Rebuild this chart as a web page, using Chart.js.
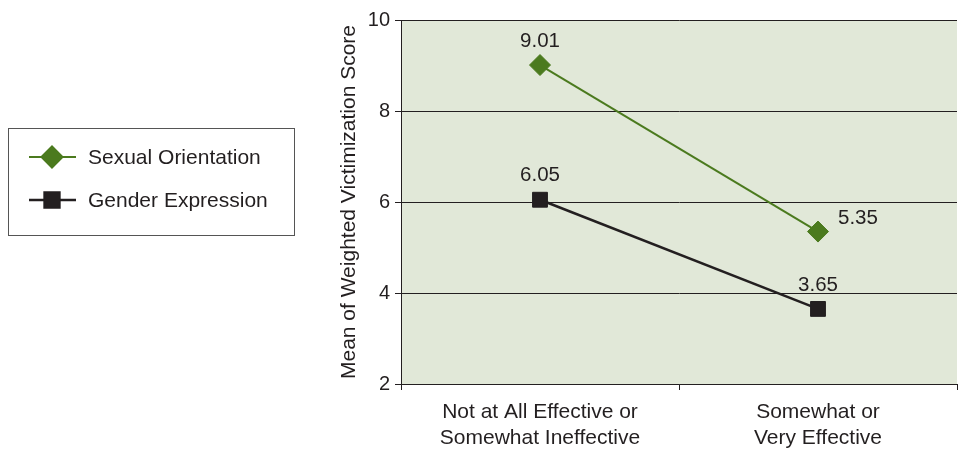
<!DOCTYPE html>
<html>
<head>
<meta charset="utf-8">
<script src="https://cdn.jsdelivr.net/npm/chart.js@4"></script>
<style>
  html, body { margin: 0; padding: 0; background: #fff; overflow: hidden; }
  #wrap { width: 959px; height: 450px; }
  canvas { display: block; }
</style>
</head>
<body>
<div id="wrap"><canvas id="grafico" width="959" height="450"></canvas></div>
<script>
// dados do gráfico
const categorias = [['Not at All Effective or', 'Somewhat Ineffective'], ['Somewhat or', 'Very Effective']];
const serieNomes = ['Sexual Orientation', 'Gender Expression'];
const orientacao = [9.01, 5.35];
const expressao = [6.05, 3.65];
const yTicks = [2, 4, 6, 8, 10];

const VERDE = '#4b7a1e';
const PRETO = '#231f20';
const FONTE = '"Liberation Sans", Arial, sans-serif';

// fundo da área do gráfico
const fundoPlugin = {
  id: 'fundo',
  beforeDraw(chart) {
    const a = chart.chartArea;
    const ctx = chart.ctx;
    ctx.save();
    ctx.fillStyle = '#e1e8d8';
    ctx.fillRect(a.left, a.top, a.right - a.left, a.bottom - a.top);
    ctx.restore();
  }
};

// rótulos de valor acima dos pontos
const rotulosPlugin = {
  id: 'rotulos',
  afterDatasetsDraw(chart) {
    const ctx = chart.ctx;
    ctx.save();
    ctx.font = '20.5px ' + FONTE;
    ctx.fillStyle = PRETO;
    ctx.textBaseline = 'middle';
    chart.data.datasets.forEach((ds, i) => {
      chart.getDatasetMeta(i).data.forEach((pt, j) => {
        const txt = ds.data[j].toFixed(2);
        if (i === 0 && j === 1) {
          ctx.textAlign = 'left';
          ctx.fillText(txt, pt.x + 20, pt.y - 13);
        } else {
          ctx.textAlign = 'center';
          ctx.fillText(txt, pt.x, pt.y - 24);
        }
      });
    });
    ctx.restore();
  }
};

// legenda com caixa à esquerda
const legendaPlugin = {
  id: 'legendaCaixa',
  afterDraw(chart) {
    const ctx = chart.ctx;
    ctx.save();
    ctx.strokeStyle = '#555';
    ctx.lineWidth = 1;
    ctx.strokeRect(8.5, 128.5, 286, 107);
    ctx.font = '21px ' + FONTE;
    ctx.textBaseline = 'middle';
    ctx.textAlign = 'left';
    chart.data.datasets.forEach((ds, i) => {
      const y = 157 + i * 43;
      ctx.strokeStyle = ds.borderColor;
      ctx.lineWidth = ds.borderWidth;
      ctx.beginPath();
      ctx.moveTo(29, y);
      ctx.lineTo(76, y);
      ctx.stroke();
      Chart.helpers.drawPoint(ctx, {
        pointStyle: ds.pointStyle,
        radius: ds.pointRadius,
        borderWidth: 1
      }, 52, y);
      ctx.fillStyle = ds.pointBackgroundColor;
      ctx.fill();
      ctx.fillStyle = PRETO;
      ctx.fillText(serieNomes[i], 88, y + 1);
    });
    ctx.restore();
  }
};

window.addEventListener('DOMContentLoaded', function () {
  const ctx = document.getElementById('grafico').getContext('2d');
  new Chart(ctx, {
    type: 'line',
    data: {
      labels: categorias,
      datasets: [
        {
          label: serieNomes[0],
          data: orientacao,
          borderColor: VERDE,
          backgroundColor: VERDE,
          pointBackgroundColor: VERDE,
          pointBorderColor: VERDE,
          borderWidth: 2,
          pointStyle: 'rectRot',
          pointRadius: 10.5,
          pointBorderWidth: 1
        },
        {
          label: serieNomes[1],
          data: expressao,
          borderColor: PRETO,
          backgroundColor: PRETO,
          pointBackgroundColor: PRETO,
          pointBorderColor: PRETO,
          borderWidth: 2.5,
          pointStyle: 'rect',
          pointRadius: 10.5,
          pointBorderWidth: 1
        }
      ]
    },
    options: {
      responsive: false,
      animation: false,
      layout: { autoPadding: false, padding: { left: 337, top: 20, right: 2, bottom: 0 } },
      plugins: {
        legend: { display: false },
        tooltip: { enabled: false }
      },
      scales: {
        x: {
          offset: true,
          grid: { drawOnChartArea: false, drawTicks: true, tickLength: 6, offset: true, color: PRETO },
          border: { color: PRETO, width: 1 },
          ticks: { color: PRETO, font: { family: FONTE, size: 21, lineHeight: 1.25 }, padding: 9, maxRotation: 0 },
          afterFit(scale) {
            scale.height = 66;
            scale.paddingLeft = 0;
            scale.paddingRight = 0;
          }
        },
        y: {
          min: 2,
          max: 10,
          afterBuildTicks(scale) { scale.ticks = yTicks.map(v => ({ value: v })); },
          grid: { color: PRETO, lineWidth: 1, tickLength: 6 },
          border: { color: PRETO, width: 1 },
          ticks: { color: PRETO, font: { family: FONTE, size: 20 }, padding: 5 },
          title: {
            display: true,
            text: 'Mean of Weighted Victimization Score',
            color: PRETO,
            font: { family: FONTE, size: 21 },
            padding: { top: 0, bottom: 4 }
          },
          afterFit(scale) {
            scale.width = 64;
            scale.paddingTop = 0;
            scale.paddingBottom = 0;
          }
        }
      }
    },
    plugins: [fundoPlugin, rotulosPlugin, legendaPlugin]
  });
});
</script>
</body>
</html>
